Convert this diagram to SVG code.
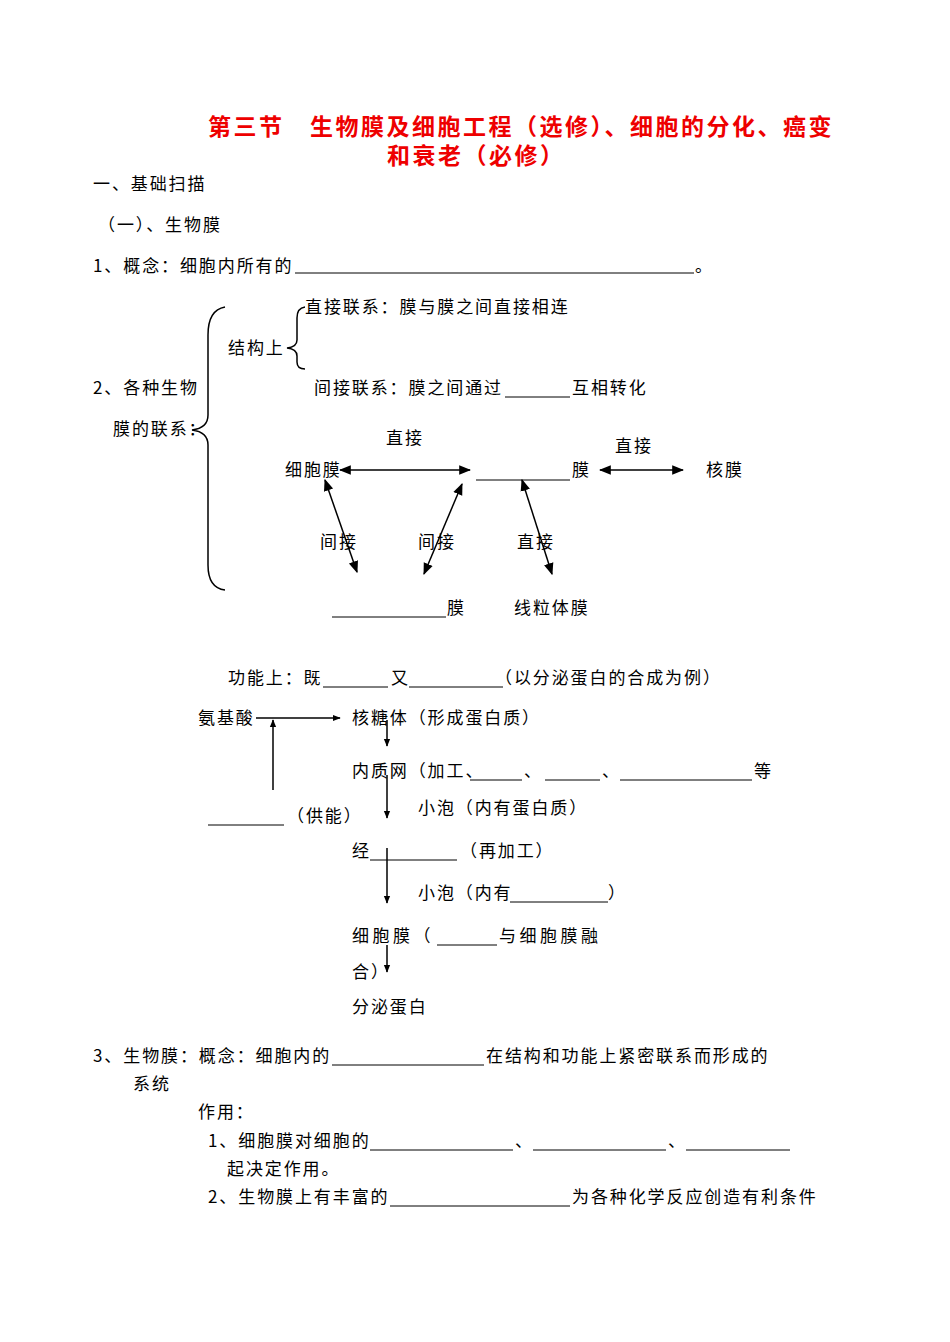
<svg xmlns="http://www.w3.org/2000/svg" width="950" height="1342" viewBox="0 0 950 1342">
<style>
text{font-family:"Noto Sans CJK SC","Liberation Serif",sans-serif;font-size:17px;letter-spacing:1.9px;fill:#000}
.t{font-size:23px;font-weight:bold;fill:#e00;letter-spacing:2.5px}
.u{stroke:#000;stroke-width:1}
.a{stroke:#000;stroke-width:1.5;fill:none}
</style>
<defs>
<marker id="ah" viewBox="0 0 10 10" refX="9" refY="5" markerWidth="8" markerHeight="8" orient="auto-start-reverse" markerUnits="userSpaceOnUse"><path d="M0,1 L10,5 L0,9 z" fill="#000"/></marker>
<marker id="ah2" viewBox="0 0 10 10" refX="9" refY="5" markerWidth="12" markerHeight="12" orient="auto-start-reverse" markerUnits="userSpaceOnUse"><path d="M0,1 L10,5 L0,9 z" fill="#000"/></marker>
</defs>
<rect width="950" height="1342" fill="#fff"/>
<g id="title">
<text class="t" x="208" y="135">第三节</text>
<text class="t" x="310" y="135">生物膜及细胞工程（选修）、细胞的分化、癌变</text>
<text class="t" x="387" y="164">和衰老（必修）</text>
</g>
<g id="text">
<text x="93" y="190">一、基础扫描</text>
<text x="98" y="231">（一）、生物膜</text>
<text x="93" y="272">1、概念：细胞内所有的</text><line class="u" x1="295" y1="273" x2="694" y2="273"/><text x="695" y="272">。</text>
<text x="93" y="394">2、各种生物</text>
<text x="113" y="435">膜的联系：</text>
<text x="228" y="354">结构上</text>
<text x="305" y="313">直接联系：膜与膜之间直接相连</text>
<text x="314" y="394">间接联系：膜之间通过</text><line class="u" x1="505" y1="397" x2="570" y2="397"/><text x="572" y="394">互相转化</text>
</g>
<g id="braces">
<path class="a" d="M225,307 Q208,310 208,335 L208,415 Q208,428 192,430 Q208,432 208,445 L208,565 Q208,588 225,590" stroke-width="1.3"/>
<path class="a" d="M305,307 Q297,308 297,318 L297,340 Q297,347 287,348 Q297,349 297,356 L297,362 Q297,369 305,369" stroke-width="1.3"/>
</g>
<g id="nodes1">
<text x="386" y="444">直接</text>
<text x="285" y="476">细胞膜</text>
<line class="u" x1="476" y1="480" x2="570" y2="480"/><text x="572" y="476">膜</text>
<text x="615" y="452">直接</text>
<text x="706" y="476">核膜</text>
<text x="320" y="548">间接</text>
<text x="418" y="548">间接</text>
<text x="517" y="548">直接</text>
<line class="u" x1="332" y1="617" x2="446" y2="617"/><text x="447" y="614">膜</text>
<text x="514" y="614">线粒体膜</text>
</g>
<g id="connectors1">
<line class="a" x1="340" y1="470" x2="470" y2="470" marker-start="url(#ah2)" marker-end="url(#ah2)"/>
<line class="a" x1="600" y1="470" x2="683" y2="470" marker-start="url(#ah2)" marker-end="url(#ah2)"/>
<line class="a" x1="325" y1="480" x2="357" y2="572" marker-start="url(#ah2)" marker-end="url(#ah2)"/>
<line class="a" x1="462" y1="484" x2="424" y2="574" marker-start="url(#ah2)" marker-end="url(#ah2)"/>
<line class="a" x1="522" y1="480" x2="552" y2="574" marker-start="url(#ah2)" marker-end="url(#ah2)"/>
</g>
<g id="nodes2">
<text x="228" y="684">功能上：既</text><line class="u" x1="323" y1="687" x2="388" y2="687"/><text x="391" y="684">又</text><line class="u" x1="409" y1="687" x2="503" y2="687"/><text x="495" y="684">（以分泌蛋白的合成为例）</text>
<text x="198" y="724">氨基酸</text>
<text x="352" y="724">核糖体（形成蛋白质）</text>
<text x="352" y="777">内质网（加工、</text><line class="u" x1="470" y1="780" x2="522" y2="780"/><text x="524" y="777">、</text><line class="u" x1="545" y1="780" x2="600" y2="780"/><text x="602" y="777">、</text><line class="u" x1="620" y1="780" x2="752" y2="780"/><text x="754" y="777">等</text>
<text x="418" y="814">小泡（内有蛋白质）</text>
<line class="u" x1="208" y1="825" x2="284" y2="825"/><text x="287" y="822">（供能）</text>
<text x="352" y="857">经</text><line class="u" x1="370" y1="860" x2="457" y2="860"/><text x="460" y="857">（再加工）</text>
<text x="418" y="899">小泡（内有</text><line class="u" x1="510" y1="902" x2="608" y2="902"/><text x="608" y="899">）</text>
<text x="352" y="942" style="letter-spacing:3.5px">细胞膜（</text><line class="u" x1="437" y1="945" x2="497" y2="945"/><text x="499" y="942" style="letter-spacing:3.5px">与细胞膜融</text>
<text x="352" y="978">合）</text>
<text x="352" y="1013">分泌蛋白</text>
</g>
<g id="connectors2">
<line class="a" x1="256" y1="718" x2="340" y2="718" marker-end="url(#ah)"/>
<line class="a" x1="273" y1="790" x2="273" y2="720" marker-end="url(#ah)"/>
<line class="a" x1="387" y1="720" x2="387" y2="746" marker-end="url(#ah)"/>
<line class="a" x1="387" y1="775" x2="387" y2="818" marker-end="url(#ah)"/>
<line class="a" x1="387" y1="848" x2="387" y2="903" marker-end="url(#ah)"/>
<line class="a" x1="387" y1="945" x2="387" y2="972" marker-end="url(#ah)"/>
</g>
<g id="text3">
<text x="93" y="1062">3、生物膜：概念：细胞内的</text><line class="u" x1="332" y1="1065" x2="484" y2="1065"/><text x="486" y="1062">在结构和功能上紧密联系而形成的</text>
<text x="133" y="1090">系统</text>
<text x="198" y="1118">作用：</text>
<text x="208" y="1147">1、细胞膜对细胞的</text><line class="u" x1="370" y1="1150" x2="513" y2="1150"/><text x="515" y="1147">、</text><line class="u" x1="533" y1="1150" x2="666" y2="1150"/><text x="668" y="1147">、</text><line class="u" x1="686" y1="1150" x2="790" y2="1150"/>
<text x="227" y="1175">起决定作用。</text>
<text x="208" y="1203">2、生物膜上有丰富的</text><line class="u" x1="390" y1="1206" x2="570" y2="1206"/><text x="572" y="1203">为各种化学反应创造有利条件</text>
</g>
</svg>
